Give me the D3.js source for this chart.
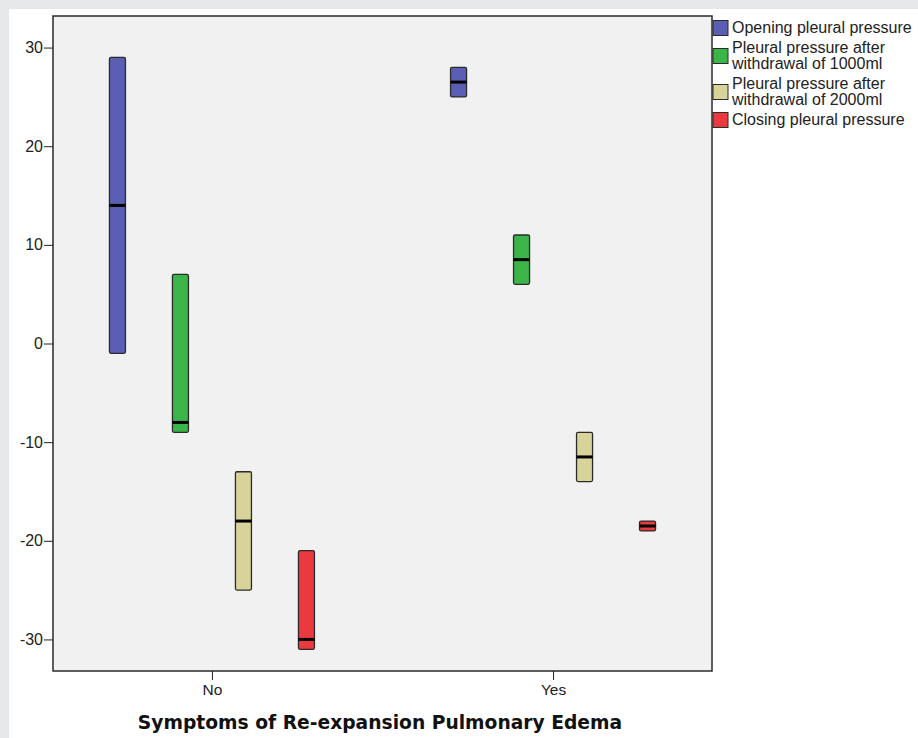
<!DOCTYPE html>
<meta charset="utf-8">
<style>
  body { margin: 0; background: #e6e7e9; }
  svg { display: block; }
  .axis path, .axis line { stroke: #222; }
</style>
<body>
<div id="chart"></div>
<script src="https://d3js.org/d3.v7.min.js"></script>
<script>

// groups on the x axis
var groups = ["No", "Yes"];

// series (one box per series per group)
var series = [
  "Opening pleural pressure",
  "Pleural pressure after withdrawal of 1000ml",
  "Pleural pressure after withdrawal of 2000ml",
  "Closing pleural pressure"
];
var legendLines = [
  ["Opening pleural pressure"],
  ["Pleural pressure after", "withdrawal of 1000ml"],
  ["Pleural pressure after", "withdrawal of 2000ml"],
  ["Closing pleural pressure"]
];
var colors = ["#5a5fb4", "#3bb54a", "#d7d39b", "#ea3a40"];

// high / low / median per series, order = groups
var highs   = [[29, 28], [7, 11], [-13, -9], [-21, -18]];
var lows    = [[-1, 25], [-9, 6], [-25, -14], [-31, -19]];
var medians = [[14, 26.5], [-8, 8.5], [-18, -11.5], [-30, -18.5]];

var yTicks = [30, 20, 10, 0, -10, -20, -30];

var W = 918, H = 738;
var plot = {left: 53, top: 16, right: 712, bottom: 671};

var svg = d3.select("#chart").append("svg")
    .attr("width", W)
    .attr("height", H);

// white panel
svg.append("rect")
    .attr("x", 9).attr("y", 9)
    .attr("width", W - 9).attr("height", H - 9)
    .attr("fill", "#ffffff");

// plot background
svg.append("rect")
    .attr("x", plot.left).attr("y", plot.top)
    .attr("width", plot.right - plot.left)
    .attr("height", plot.bottom - plot.top)
    .attr("fill", "#f1f1f1")
    .attr("stroke", "#2a2a2a")
    .attr("stroke-width", 1.5);

var y = d3.scaleLinear().domain([-33.2, 33.2]).range([plot.bottom, plot.top]);

var x0 = d3.scalePoint().domain(groups)
    .range([plot.left, plot.right]).padding(0.466);

var x1 = d3.scaleBand().domain(series)
    .range([-126, 126]).paddingInner(0.746).paddingOuter(0.373);

// axes (plain hyphen for negatives, like the original)
var yAxis = svg.append("g")
    .attr("class", "axis")
    .attr("transform", "translate(" + plot.left + ",0)")
    .call(d3.axisLeft(y).tickValues(yTicks).tickSize(9).tickPadding(1)
      .tickFormat(function(d) { return String(d); }));
yAxis.select(".domain").remove();
yAxis.selectAll("text")
    .style("font-family", "Liberation Sans, Arial, sans-serif")
    .style("font-size", "16px")
    .style("fill", "#222");

var xAxis = svg.append("g")
    .attr("class", "axis")
    .attr("transform", "translate(0," + plot.bottom + ")")
    .call(d3.axisBottom(x0).tickSize(9).tickPadding(4));
xAxis.select(".domain").remove();
xAxis.selectAll("text")
    .style("font-family", "Liberation Sans, Arial, sans-serif")
    .style("font-size", "15.5px")
    .style("fill", "#222");

// boxes
series.forEach(function(s, i) {
  groups.forEach(function(g, j) {
    var cx = x0(g) + x1(s);
    var bw = x1.bandwidth();
    svg.append("rect")
        .attr("x", cx)
        .attr("y", y(highs[i][j]))
        .attr("width", bw)
        .attr("height", y(lows[i][j]) - y(highs[i][j]))
        .attr("rx", 1.5)
        .attr("fill", colors[i])
        .attr("stroke", "#2b2b2b")
        .attr("stroke-width", 1.3);
    svg.append("line")
        .attr("x1", cx).attr("x2", cx + bw)
        .attr("y1", y(medians[i][j])).attr("y2", y(medians[i][j]))
        .attr("stroke", "#000")
        .attr("stroke-width", 3);
  });
});

// legend: baseline of the first text line of each item
var legendBase = [33, 53, 89, 125];
var lineStep = 16;
var legend = svg.append("g");
legendLines.forEach(function(lines, i) {
  var blockMid = legendBase[i] - 5 + (lines.length - 1) * lineStep / 2;
  legend.append("rect")
      .attr("x", 713).attr("y", blockMid - 7.5)
      .attr("width", 15).attr("height", 15)
      .attr("fill", colors[i])
      .attr("stroke", "#2b2b2b")
      .attr("stroke-width", 1);
  lines.forEach(function(t, k) {
    legend.append("text")
        .attr("x", 732)
        .attr("y", legendBase[i] + k * lineStep)
        .attr("font-family", "Liberation Sans, Arial, sans-serif")
        .attr("font-size", "16px")
        .attr("fill", "#222")
        .text(t);
  });
});

// x axis title
svg.append("text")
    .attr("x", 380)
    .attr("y", 729)
    .attr("text-anchor", "middle")
    .attr("font-family", "DejaVu Sans, Verdana, sans-serif")
    .attr("font-weight", "bold")
    .attr("font-size", "18.7px")
    .attr("fill", "#111")
    .text("Symptoms of Re-expansion Pulmonary Edema");

</script>
</body>
